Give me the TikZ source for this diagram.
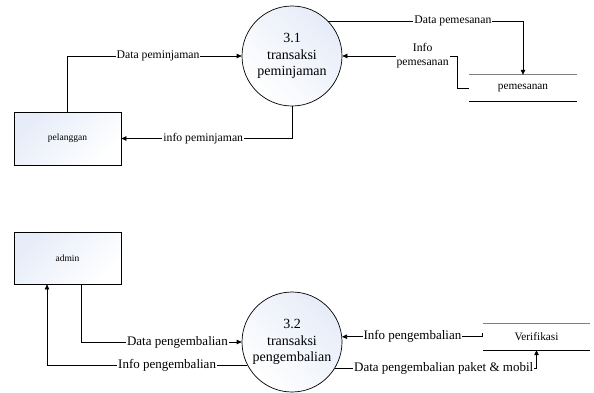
\documentclass[tikz,border=0pt]{standalone}
\usepackage{fontspec}
\setmainfont{Liberation Serif}
\usetikzlibrary{arrows.meta}
\definecolor{shadeblue}{HTML}{E6ECF8}
\tikzset{
  x=1pt, y=-1pt,
  conn/.style={line width=0.7pt},
  arr/.style={conn, -{Triangle[length=5pt,width=4.5pt]}},
  proc/.style={circle, draw, line width=0.7pt, minimum size=100pt, inner sep=0pt, align=center,
    top color=shadeblue, bottom color=white, shading angle=45, font=\fontsize{14}{16.5}\selectfont},
  entity/.style={rectangle, draw, line width=0.7pt, inner sep=0pt,
    top color=shadeblue, bottom color=white, shading angle=45, font=\fontsize{9.5}{11}\selectfont},
  store/.style={inner sep=0pt, minimum height=26pt, font=\fontsize{11.3}{13}\selectfont},
  lblsmall/.style={fill=white, inner sep=1pt, font=\fontsize{11.7}{13}\selectfont},
  lblbig/.style={fill=white, inner sep=1pt, font=\fontsize{13}{15}\selectfont},
}
\begin{document}
\begin{tikzpicture}
\useasboundingbox (0,0) rectangle (594,392);
% nodes
\node[proc, top color=white, bottom color=white, left color=shadeblue, right color=white, shading angle=-45] (c1) at (292,56) {3.1\\transaksi\\peminjaman};
\node[entity, minimum width=107pt, minimum height=53pt] (pel) at (67.5,138.5) {pelanggan};
\node[store, minimum width=108pt] (pem) at (523,88) {pemesanan};
\draw[gray, line width=1.2pt] (pem.north west) -- (pem.north east);
\draw[line width=0.8pt] (pem.south west) -- (pem.south east);

\node[proc, left color=shadeblue, right color=white, shading angle=-45] (c2) at (292,342) {3.2\\transaksi\\pengembalian};
\node[entity, minimum width=107pt, minimum height=52pt] (adm) at (67.5,258) {admin};
\node[store, minimum width=107pt] (ver) at (536.5,337) {Verifikasi};
\draw[gray, line width=1.2pt] (ver.north west) -- (ver.north east);
\draw[line width=0.8pt] (ver.south west) -- (ver.south east);

% top connectors
\draw[arr] (pel.north) |- (c1.west) node[lblsmall, pos=0.76] {Data peminjaman};
\draw[arr] (c1.south) |- (pel.east) node[lblsmall, pos=0.76] {info peminjaman};
\draw[arr] (c1.44) -| (pem.north) node[lblsmall, pos=0.32] {Data pemesanan};
\coordinate (ip) at (457,56);
\draw[arr] (pem.west) -| (ip) -- (c1.east)
  node[lblsmall, pos=0.3, align=center, font=\fontsize{11.7}{14}\selectfont] {Info\\pemesanan};

% bottom connectors
\draw[arr] ([xshift=13.5pt]adm.south) |- (c2.west) node[lblbig, pos=0.8] {Data pengembalian};
\draw[arr] (c2.207) -| ([xshift=-20.5pt]adm.south) node[lblbig, pos=0.2] {Info pengembalian};
\coordinate (vh) at ([yshift=4pt]ver.west);
\draw[arr] (vh) |- (c2.6) node[lblbig, pos=0.75] {Info pengembalian};
\draw[arr] (c2.-32) -| (ver.south) node[lblbig, pos=0.27] {Data pengembalian paket \& mobil};
\end{tikzpicture}
\end{document}
